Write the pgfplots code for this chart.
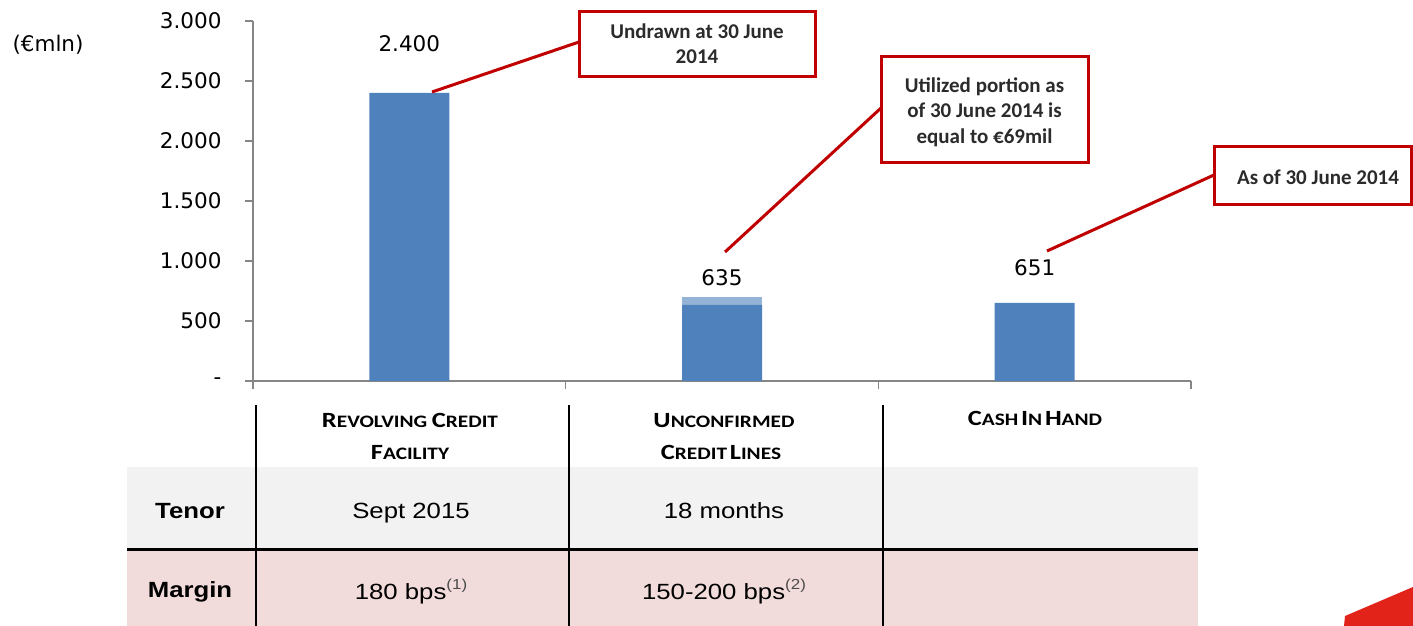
\documentclass[border=0pt]{standalone}
\usepackage{fontspec}
\setmainfont{DejaVu Sans}
\newfontfamily\carlito{Carlito}
\newfontfamily\arialf{Liberation Sans}
\usepackage{pgfplots}
\pgfplotsset{compat=1.18}
\definecolor{barblue}{HTML}{4F81BD}
\definecolor{barlight}{HTML}{95B3D7}
\definecolor{axgray}{HTML}{868686}
\definecolor{callred}{HTML}{C00000}
\definecolor{rowgray}{HTML}{F2F2F2}
\definecolor{rowpink}{HTML}{F2DCDB}
\definecolor{logored}{HTML}{E2231A}
\definecolor{calltext}{HTML}{2B2B2B}
\newcommand\tfont{\fontsize{21.5}{26}\selectfont}
\newcommand\cfont{\carlito\bfseries\fontsize{21}{25.5}\selectfont\color{calltext}}
\newcommand\hsc[2]{{\fontsize{21.7}{26}\selectfont #1}{\fontsize{17.5}{26}\selectfont #2}}
\newcommand\hdr[1]{\scalebox{1.22}[1]{\carlito\bfseries #1}}
\newcommand\cell[1]{\scalebox{1.17}[1]{\arialf\fontsize{22}{26}\selectfont #1}}
\newcommand\supnote[1]{\raisebox{10pt}{\fontsize{14.5}{16}\selectfont\color{black!70}(#1)}}
\begin{document}
\begin{tikzpicture}[x=1pt,y=1pt]
\useasboundingbox (0,0) rectangle (1413,626);
% table
\fill[rowgray] (127,78) rectangle (1198,159);
\fill[rowpink] (127,0) rectangle (1198,75);
\draw[line width=2.7pt] (127,76.5) -- (1198,76.5);
\foreach \x in {256,569,883} \draw[line width=2.2pt] (\x,0) -- (\x,221);
\node[anchor=base] at (410,198) {\hdr{\hsc{R}{EVOLVING}\hspace{1.5pt} \hsc{C}{REDIT}}};
\node[anchor=base] at (410,166) {\hdr{\hsc{F}{ACILITY}}};
\node[anchor=base] at (724,198) {\hdr{\hsc{U}{NCONFIRMED}}};
\node[anchor=base] at (721,166) {\hdr{\hsc{C}{REDIT} \hsc{L}{INES}}};
\node[anchor=base] at (1035,200) {\hdr{\hsc{C}{ASH} \hsc{I}{N} \hsc{H}{AND}}};
\node[anchor=base] at (190,107) {\cell{\bfseries Tenor}};
\node[anchor=base] at (411,107) {\cell{Sept 2015}};
\node[anchor=base] at (724,107) {\cell{18 months}};
\node[anchor=base] at (190,28) {\cell{\bfseries Margin}};
\node[anchor=base] at (411,26) {\cell{180 bps\supnote{1}}};
\node[anchor=base] at (724,26) {\cell{150-200 bps\supnote{2}}};
% logo fragment
\fill[logored] (1344,0) -- (1345,10) -- (1413,39) -- (1413,0) -- cycle;
% unit label
\node[font=\tfont] at (48,581) {(€mln)};
\begin{axis}[
  at={(253pt,245pt)}, anchor=south west,
  scale only axis, width=938pt, height=360pt,
  xmin=-0.5, xmax=2.5, ymin=0, ymax=3000,
  axis x line*=bottom, axis y line*=left,
  axis line style={draw=axgray, line width=1.3pt, -},
  xtick={-0.5,0.5,1.5,2.5}, xticklabels={},
  ytick={0,500,1000,1500,2000,2500,3000},
  yticklabels={{-\hspace{14pt}},500,1.000,1.500,2.000,2.500,3.000},
  tick style={draw=axgray, line width=1.3pt},
  major tick length=8pt, tick align=outside,
  yticklabel style={font=\tfont, text=black, xshift=-20pt},
  ybar stacked, bar width=80pt, clip=false,
]
\addplot[fill=barblue, draw=none] coordinates {(0,2400) (1,635) (2,651)};
\addplot[fill=barlight, draw=none] coordinates {(0,0) (1,69) (2,0)};
\node[font=\tfont] at (axis cs:0,2808) {2.400};
\node[font=\tfont] at (axis cs:1,858) {635};
\node[font=\tfont] at (axis cs:2,942) {651};
\end{axis}
% callouts
\draw[callred, line width=3pt] (579,584) -- (432,534);
\draw[callred, line width=3pt] (881,518) -- (725,374);
\draw[callred, line width=3pt] (1214,451) -- (1047,375);
\draw[callred, line width=3pt, fill=white] (579,549) rectangle (815,614);
\draw[callred, line width=3pt, fill=white] (881,463) rectangle (1088,569);
\draw[callred, line width=3pt, fill=white] (1214,421) rectangle (1411,479);
\node[anchor=base, font=\cfont] at (697,587) {Undrawn at 30 June};
\node[anchor=base, font=\cfont] at (697,562) {2014};
\node[anchor=base, font=\cfont] at (984.5,533) {Utilized portion as};
\node[anchor=base, font=\cfont] at (984.5,508) {of 30 June 2014 is};
\node[anchor=base, font=\cfont] at (984.5,482) {equal to €69mil};
\node[anchor=base, font=\cfont] at (1318,441) {As of 30 June 2014};
\end{tikzpicture}
\end{document}
